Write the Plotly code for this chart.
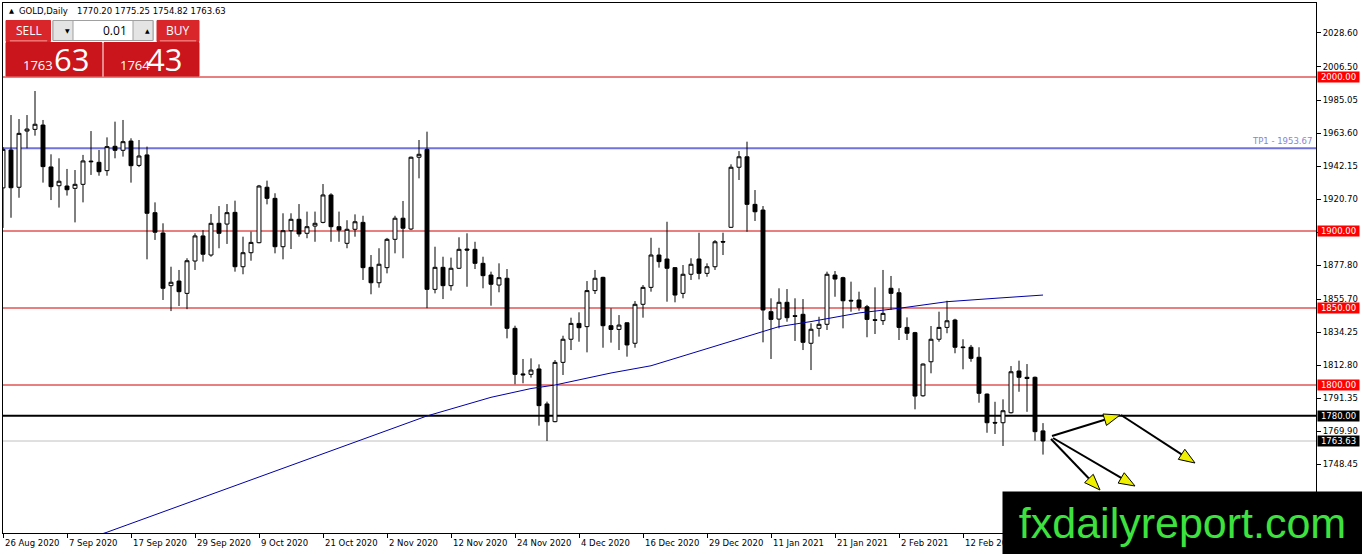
import math
import plotly.graph_objects as go

# GOLD, Daily (MT4) - bars are numbered 0..130, one per trading day, 26 Aug 2020 .. 26 Feb 2021
tick_dates = ["26 Aug 2020", "7 Sep 2020", "17 Sep 2020", "29 Sep 2020", "9 Oct 2020",
              "21 Oct 2020", "2 Nov 2020", "12 Nov 2020", "24 Nov 2020", "4 Dec 2020",
              "16 Dec 2020", "29 Dec 2020", "11 Jan 2021", "21 Jan 2021", "2 Feb 2021",
              "12 Feb 2021"]
tick_bars = [0, 8, 16, 24, 32, 40, 48, 56, 64, 72, 80, 88, 96, 104, 112, 120]

opens = [1928.0, 1952.6, 1928.4, 1964.9, 1966.0, 1968.8, 1941.6, 1929.4, 1929.2, 1927.7,
         1930.3, 1945.4, 1944.6, 1939.2, 1955.0, 1952.4, 1958.4, 1942.6, 1949.4, 1911.9,
         1898.7, 1864.5, 1867.5, 1859.5, 1880.5, 1896.8, 1884.4, 1905.0, 1904.5, 1912.1,
         1876.8, 1885.9, 1892.4, 1928.4, 1921.2, 1889.8, 1900.2, 1907.6, 1898.5, 1903.2,
         1905.6, 1923.4, 1902.8, 1892.0, 1901.1, 1905.6, 1876.4, 1866.4, 1876.2, 1894.6,
         1908.3, 1901.3, 1947.9, 1953.0, 1862.1, 1876.4, 1864.5, 1875.8, 1888.3, 1888.1,
         1879.0, 1871.4, 1864.9, 1869.3, 1836.8, 1807.2, 1806.9, 1810.4, 1787.7, 1776.2,
         1814.7, 1829.7, 1840.0, 1837.9, 1861.3, 1869.9, 1838.5, 1836.1, 1840.4, 1827.1,
         1852.4, 1863.4, 1884.4, 1881.8, 1876.2, 1859.5, 1871.9, 1881.8, 1872.5, 1876.8,
         1893.2, 1902.4, 1941.4, 1948.2, 1917.3, 1913.6, 1847.6, 1842.8, 1853.7, 1845.0,
         1845.9, 1827.1, 1836.8, 1839.4, 1871.4, 1869.7, 1855.0, 1855.2, 1850.8, 1842.4,
         1841.8, 1862.8, 1859.9, 1837.4, 1834.0, 1793.0, 1815.1, 1829.7, 1837.4, 1842.2,
         1824.7, 1824.5, 1818.0, 1794.1, 1775.7, 1775.5, 1782.0, 1809.1, 1805.0, 1805.0,
         1770.20]
highs = [1954.5, 1975.3, 1972.7, 1975.3, 1990.9, 1972.1, 1949.8, 1947.2, 1940.3, 1939.6,
         1949.4, 1964.9, 1952.6, 1960.8, 1971.0, 1972.1, 1960.2, 1959.1, 1954.8, 1918.6,
         1905.0, 1876.8, 1874.7, 1882.3, 1898.5, 1900.6, 1911.0, 1916.2, 1917.5, 1919.7,
         1896.3, 1899.6, 1929.9, 1932.7, 1924.5, 1911.5, 1911.5, 1917.5, 1912.6, 1912.6,
         1930.5, 1924.5, 1912.6, 1907.0, 1910.8, 1909.9, 1884.4, 1888.8, 1895.5, 1909.9,
         1919.5, 1948.3, 1959.1, 1964.5, 1889.8, 1883.3, 1882.7, 1895.9, 1898.5, 1893.0,
         1883.3, 1873.6, 1879.0, 1875.3, 1838.5, 1816.9, 1817.3, 1813.4, 1789.2, 1816.2,
         1832.0, 1843.7, 1847.2, 1867.5, 1874.7, 1870.3, 1849.8, 1845.4, 1840.6, 1854.5,
         1864.9, 1895.6, 1889.1, 1906.0, 1876.5, 1877.9, 1882.3, 1898.9, 1879.0, 1894.1,
         1898.9, 1943.3, 1951.9, 1958.0, 1926.6, 1916.2, 1856.3, 1862.8, 1862.3, 1856.3,
         1855.8, 1840.1, 1844.3, 1873.6, 1874.0, 1870.3, 1867.1, 1860.6, 1852.0, 1863.4,
         1874.7, 1870.8, 1862.8, 1843.9, 1834.5, 1814.0, 1838.3, 1847.6, 1854.7, 1843.0,
         1829.7, 1826.0, 1824.5, 1794.5, 1789.1, 1790.7, 1812.3, 1815.8, 1813.6, 1805.5,
         1775.25]
lows = [1902.0, 1908.6, 1921.6, 1953.7, 1961.9, 1931.4, 1920.1, 1915.2, 1923.0, 1905.6,
        1918.6, 1936.4, 1935.9, 1935.9, 1947.2, 1948.3, 1931.4, 1941.5, 1881.6, 1894.2,
        1855.2, 1848.0, 1851.3, 1849.2, 1874.7, 1880.1, 1883.3, 1888.8, 1891.6, 1873.6,
        1871.9, 1880.7, 1892.0, 1917.3, 1885.5, 1881.6, 1888.3, 1896.3, 1895.3, 1893.0,
        1905.0, 1893.0, 1893.0, 1888.8, 1896.3, 1868.2, 1858.9, 1863.2, 1872.5, 1885.5,
        1882.3, 1900.6, 1934.2, 1849.9, 1859.5, 1855.8, 1861.3, 1875.3, 1863.8, 1875.3,
        1862.8, 1851.5, 1860.2, 1830.3, 1800.5, 1801.1, 1804.8, 1773.6, 1763.6, 1775.8,
        1806.5, 1822.7, 1828.1, 1821.2, 1859.1, 1824.2, 1827.5, 1822.7, 1818.4, 1824.2,
        1843.7, 1860.6, 1876.2, 1854.1, 1853.7, 1856.3, 1868.2, 1868.6, 1870.3, 1874.7,
        1884.4, 1902.0, 1933.1, 1899.5, 1906.5, 1827.7, 1816.9, 1836.8, 1841.1, 1828.6,
        1822.7, 1809.7, 1831.4, 1835.7, 1857.3, 1836.8, 1847.6, 1848.2, 1831.0, 1833.1,
        1839.0, 1848.7, 1829.2, 1829.2, 1784.2, 1792.4, 1807.6, 1828.1, 1833.6, 1820.6,
        1810.2, 1815.1, 1788.5, 1769.0, 1768.2, 1760.4, 1781.5, 1795.6, 1782.6, 1763.8,
        1754.82]
closes = [1953.0, 1928.1, 1963.4, 1966.2, 1969.3, 1941.8, 1928.8, 1932.3, 1926.8, 1930.3,
          1945.5, 1945.0, 1938.5, 1954.8, 1952.4, 1958.0, 1942.4, 1948.7, 1911.5, 1899.2,
          1862.8, 1866.7, 1860.6, 1880.7, 1896.8, 1884.9, 1905.0, 1898.5, 1911.9, 1876.8,
          1885.9, 1892.6, 1929.2, 1921.2, 1889.8, 1900.2, 1907.6, 1898.1, 1902.8, 1905.0,
          1923.4, 1902.8, 1900.6, 1901.1, 1906.0, 1876.2, 1866.4, 1878.4, 1894.6, 1908.3,
          1901.8, 1947.9, 1949.8, 1862.1, 1876.4, 1864.5, 1875.8, 1888.1, 1887.6, 1879.0,
          1871.0, 1865.4, 1869.7, 1836.8, 1806.9, 1806.6, 1809.7, 1786.6, 1776.2, 1814.7,
          1829.7, 1840.0, 1837.2, 1861.3, 1869.3, 1838.5, 1836.1, 1838.9, 1826.0, 1852.4,
          1863.4, 1884.4, 1880.1, 1875.8, 1858.4, 1871.9, 1878.4, 1872.5, 1876.8, 1893.0,
          1892.8, 1941.4, 1948.2, 1917.3, 1912.5, 1848.7, 1842.6, 1853.7, 1843.7, 1844.6,
          1827.7, 1836.2, 1839.4, 1871.9, 1868.8, 1854.7, 1854.6, 1850.4, 1842.6, 1842.0,
          1846.5, 1859.5, 1837.4, 1833.6, 1792.8, 1813.6, 1829.7, 1837.4, 1841.7, 1824.5,
          1824.3, 1817.3, 1794.6, 1775.5, 1775.3, 1783.3, 1808.6, 1805.0, 1804.2, 1769.7,
          1763.63]
bars = list(range(len(opens)))

# moving average (blue line), read at a few bars
ma_bars = [11, 13, 21, 29, 37, 45, 53, 61, 66, 69, 76, 81, 86, 90, 95, 97, 101, 107, 112, 118, 124, 130]
ma_values = [1701.0, 1704.4, 1719.5, 1734.7, 1750.0, 1765.0, 1779.9, 1792.0, 1797.7, 1800.0,
             1807.8, 1812.5, 1820.5, 1826.6, 1835.1, 1837.9, 1841.2, 1846.8, 1849.8, 1854.1,
             1856.3, 1858.4]

red_levels = [2000.0, 1900.0, 1850.0, 1800.0]
black_level = 1780.0
bid = 1763.63
tp1 = 1953.67
ytick_vals = [2028.60, 2006.50, 1985.05, 1963.60, 1942.15, 1920.70, 1899.25, 1877.80,
              1855.70, 1834.25, 1812.80, 1791.35, 1769.90, 1748.45, 1727.00]

# ---- page geometry (pixels) ----
W, H = 1362, 554
ML, MR, MT, MB = 3, 46, 3, 21
PW, PH = W - ML - MR, H - MT - MB
BAR_PX = 8.0
PX_PER_USD = 1.54
REF_Y, REF_P = 77.0, 2000.0  # pixel row of the 2000 level


def px(x):
    return (x - ML) / PW


def py(y):
    return 1 - (y - MT) / PH


def dx(x):
    return (x - ML) / BAR_PX


def dy(y):
    return REF_P - (y - REF_Y) / PX_PER_USD


FONT = "DejaVu Sans"
AX = dict(family=FONT, size=8.5, color="black")

fig = go.Figure()

fig.add_trace(go.Candlestick(
    x=bars, open=opens, high=highs, low=lows, close=closes,
    increasing=dict(line=dict(color="black", width=1), fillcolor="white"),
    decreasing=dict(line=dict(color="black", width=1), fillcolor="black"),
    whiskerwidth=0, showlegend=False, hoverinfo="skip"))

fig.add_trace(go.Scatter(x=ma_bars, y=ma_values, mode="lines",
                         line=dict(color="#0000a8", width=1), showlegend=False, hoverinfo="skip"))

shapes = []
for lv in red_levels:
    shapes.append(dict(type="line", xref="paper", x0=0, x1=1, yref="y", y0=lv, y1=lv,
                       line=dict(color="#d00000", width=1), layer="below"))
shapes.append(dict(type="line", xref="paper", x0=0, x1=1, yref="y", y0=black_level, y1=black_level,
                   line=dict(color="black", width=2), layer="below"))
shapes.append(dict(type="line", xref="paper", x0=0, x1=1, yref="y", y0=bid, y1=bid,
                   line=dict(color="#c0c0c0", width=1), layer="below"))
shapes.append(dict(type="line", xref="paper", x0=0, x1=1, yref="y", y0=tp1, y1=tp1,
                   line=dict(color="#7272dc", width=2), layer="below"))

# hand drawn arrows (pixel positions)
arrows = [((1052, 436), (1120, 415)), ((1121, 415), (1195, 463)),
          ((1053, 438), (1135, 486)), ((1051, 439), (1100, 490))]
for (x0, y0), (x1, y1) in arrows:
    n = math.hypot(x1 - x0, y1 - y0)
    ux, uy = (x1 - x0) / n, (y1 - y0) / n
    bx, by = x1 - 16 * ux, y1 - 16 * uy
    nx, ny = -uy, ux
    shapes.append(dict(type="line", xref="x", yref="y", x0=dx(x0), y0=dy(y0), x1=dx(bx), y1=dy(by),
                       line=dict(color="black", width=2)))
    pts = [(x1, y1), (bx + 6 * nx, by + 6 * ny), (bx - 6 * nx, by - 6 * ny)]
    path = "M " + " L ".join(f"{dx(a):.4f},{dy(b):.4f}" for a, b in pts) + " Z"
    shapes.append(dict(type="path", xref="x", yref="y", path=path, fillcolor="#eef000",
                       line=dict(color="black", width=1)))

# one-click trading panel
def box(x0, y0, x1, y1, fill, line=None):
    return dict(type="rect", xref="paper", yref="paper", x0=px(x0), x1=px(x1), y0=py(y1), y1=py(y0),
                fillcolor=fill, line=dict(color=line or fill, width=1), layer="above")


shapes += [
    box(6, 20.5, 50.5, 41.5, "#d8262b"),
    box(157, 20.5, 199, 41.5, "#d8262b"),
    box(53, 20.5, 153, 40.5, "white", "#a0a0a0"),
    box(53, 20.5, 73, 40.5, "#e4e4e4", "#a0a0a0"),
    box(133, 20.5, 153, 40.5, "#e4e4e4", "#a0a0a0"),
    box(6, 42.5, 102, 76, "#c9151b"),
    box(104, 42.5, 199, 76, "#c9151b"),
    box(10, 40.5, 47, 41, "#f07070"),
    box(160, 40.5, 196, 41, "#f07070"),
]


def note(text, x, y, size, color="black", anchor="left", family=FONT, **kw):
    return dict(text=text, xref="paper", yref="paper", x=px(x), y=py(y), xanchor=anchor,
                yanchor="middle", showarrow=False, font=dict(family=family, size=size, color=color), **kw)


annotations = [
    note("▲", 7, 11, 6.5),
    note("GOLD,Daily", 17, 11, 8.5),
    note("1770.20 1775.25 1754.82 1763.63", 75, 11, 8.5),
    note("SELL", 28.5, 31, 12, "white", "center", "Open Sans"),
    note("BUY", 178, 31, 12, "white", "center", "Open Sans"),
    note("0.01", 129, 30.5, 12, "black", "right", "Open Sans"),
    note("▼", 63, 30.5, 6),
    note("▲", 143, 30.5, 6),
    note("1763", 21, 65, 13, "white", "left", "Open Sans"),
    note("63", 52, 58.5, 31, "white", "left", "Open Sans"),
    note("1764", 118, 65, 13, "white", "left", "Open Sans"),
    note("43", 145, 58.5, 31, "white", "left", "Open Sans"),
    dict(text="TP1 - 1953.67", xref="paper", yref="y", x=px(1314), y=tp1, xanchor="right",
         yanchor="bottom", yshift=0, showarrow=False, font=dict(family=FONT, size=8.5, color="#8686d6")),
]

for b, d in zip(tick_bars, tick_dates):
    annotations.append(dict(text=d, xref="x", yref="paper", x=b, y=py(543), xanchor="left",
                            yanchor="middle", showarrow=False, font=AX))

for lv, bg in [(2000.0, "#ff0000"), (1900.0, "#ff0000"), (1850.0, "#ff0000"), (1800.0, "#ff0000"),
               (black_level, "black"), (bid, "black")]:
    annotations.append(dict(text=f"{lv:.2f}", xref="paper", yref="y", x=px(1317), y=lv,
                            xanchor="left", yanchor="middle", showarrow=False, width=41, height=10,
                            bgcolor=bg, borderpad=0, align="center",
                            font=dict(family=FONT, size=8.5, color="white")))

# watermark, drawn last so it sits over the axis labels
annotations.append(dict(text="fxdailyreport.com", xref="paper", yref="paper", x=px(1182.5), y=py(523),
                        xanchor="center", yanchor="middle", width=359, height=62, bgcolor="black",
                        borderpad=0, showarrow=False,
                        font=dict(family="Liberation Sans", size=43, color="#3ee23e")))

fig.update_layout(
    width=W, height=H,
    margin=dict(l=ML, r=MR, t=MT, b=MB, pad=0),
    paper_bgcolor="white", plot_bgcolor="white",
    showlegend=False,
    shapes=shapes, annotations=annotations,
    xaxis=dict(range=[0, PW / BAR_PX], tickvals=tick_bars + [128], showticklabels=False,
               ticks="outside", ticklen=4, tickcolor="black", showgrid=False, zeroline=False,
               showline=True, linecolor="black", linewidth=1, mirror=True,
               rangeslider=dict(visible=False), fixedrange=True),
    yaxis=dict(range=[dy(MT + PH), dy(MT)], side="right", tickvals=ytick_vals,
               ticktext=[f"{v:.2f}" for v in ytick_vals], ticks="outside", ticklen=4,
               tickcolor="black", tickfont=AX, showgrid=False, zeroline=False,
               showline=True, linecolor="black", linewidth=1, mirror=True, fixedrange=True),
)

# the page's default 8px body margin would push the figure off the window
fig.write_html("out.html", config={"displayModeBar": False},
               post_script="document.body.style.margin='0px';")
